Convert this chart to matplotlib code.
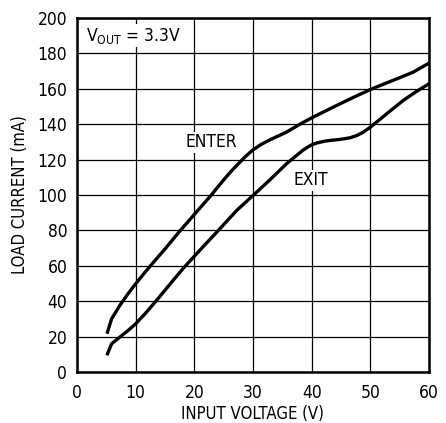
import matplotlib
matplotlib.use("Agg")
import matplotlib.pyplot as plt

# Curvas
enter_v = [5.2, 5.9, 7.3, 8.7, 10, 11.6, 13.3, 15, 17.5, 20, 22.9, 24, 25.2, 26.4, 27.6,
           28.8, 30, 31.4, 32.9, 35.7, 38, 40, 43.1, 46.5, 50, 52, 54.5, 57.3, 60]
enter_i = [22.5, 30, 37.6, 44.2, 49.8, 56.4, 63, 69.5, 79.5, 89, 100, 104.5, 109.3, 113.8,
           118, 122, 125.5, 128.6, 131.2, 135.5, 140, 143.6, 148.7, 154.2, 159.6, 162.3,
           165.6, 169.4, 174.5]

exit_v = [5.2, 5.9, 7.3, 8.7, 10, 11.6, 13.3, 16.7, 18.1, 21, 24.1, 27.2, 30, 32.9, 35.7,
          37.3, 38.6, 39.4, 40.1, 40.8, 41.4, 42.2, 43.1, 44.8, 46.5, 47.7, 48.8, 50, 52.8,
          55.6, 57.9, 60]
exit_i = [10.3, 15.9, 19.7, 23.4, 27.2, 32.9, 39.4, 53, 58.5, 69, 80, 91.2, 99.7, 108.6,
          117.6, 122, 125.5, 127.2, 128.5, 129.3, 129.8, 130.4, 130.8, 131.4, 132.3, 133.6,
          135.5, 138.3, 145.9, 153.4, 158.6, 162.8]

x_ticks = [0, 10, 20, 30, 40, 50, 60]
y_ticks = [0, 20, 40, 60, 80, 100, 120, 140, 160, 180, 200]

plt.rcParams["font.family"] = ["DejaVu Sans"]
plt.rcParams["font.stretch"] = "condensed"

fig = plt.figure(figsize=(4.46, 4.23), dpi=100)
ax = fig.add_axes([0.1726, 0.1206, 0.7892, 0.8368])

ax.plot(enter_v, enter_i, color="black", lw=2.4, solid_joinstyle="round")
ax.plot(exit_v, exit_i, color="black", lw=2.4, solid_joinstyle="round")

ax.set_xlim(0, 60)
ax.set_ylim(0, 200)
ax.set_xticks(x_ticks)
ax.set_yticks(y_ticks)
ax.tick_params(length=0, labelsize=12.5)
ax.tick_params(axis="y", pad=7)
ax.tick_params(axis="x", pad=9)
ax.grid(True, color="black", lw=0.9)
for s in ax.spines.values():
    s.set_linewidth(1.8)

ax.set_xlabel("INPUT VOLTAGE (V)", fontsize=12, labelpad=2)
ax.set_ylabel("LOAD CURRENT (mA)", fontsize=12, labelpad=6)

ax.text(22.9, 129.8, "ENTER", fontsize=12.5, ha="center", va="center",
        bbox=dict(facecolor="white", edgecolor="none", pad=1))
ax.text(39.9, 108.2, "EXIT", fontsize=12.5, ha="center", va="center",
        bbox=dict(facecolor="white", edgecolor="none", pad=1))
ax.text(1.6, 190, r"V$_{\mathrm{OUT}}$ = 3.3V", fontsize=12.5, ha="left", va="center",
        bbox=dict(facecolor="white", edgecolor="none", pad=1))

plt.savefig("out.png", dpi=100)
